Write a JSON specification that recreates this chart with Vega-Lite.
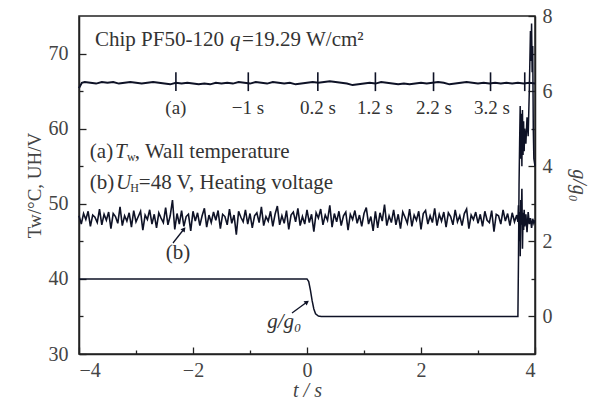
{
  "$schema": "https://vega.github.io/schema/vega-lite/v6.json",
  "width": 456,
  "height": 338,
  "autosize": {"type": "none"},
  "padding": {"left": 79, "top": 16, "right": 58, "bottom": 50},
  "background": "white",
  "config": {
    "view": {"stroke": "#222", "strokeWidth": 1.5},
    "font": "Liberation Serif",
    "axis": {
      "labelFont": "Liberation Serif", "titleFont": "Liberation Serif",
      "labelColor": "#444", "titleColor": "#444",
      "domainColor": "#222", "tickColor": "#222", "grid": false,
      "labelFontSize": 20, "titleFontSize": 20, "titleFontWeight": "normal",
      "domainWidth": 1.5, "tickWidth": 1.3
    }
  },
  "datasets": {
    "tw": [
      {"t":-4.0,"v":65.4},{"t":-3.95,"v":66.1},{"t":-3.9,"v":66.2},{"t":-3.8,"v":66.1},{"t":-3.7,"v":66.0},{"t":-3.6,"v":66.2},{"t":-3.5,"v":66.1},{"t":-3.4,"v":66.2},{"t":-3.3,"v":66.0},{"t":-3.2,"v":66.1},{"t":-3.1,"v":66.2},{"t":-3.0,"v":66.1},{"t":-2.9,"v":66.0},{"t":-2.8,"v":66.1},{"t":-2.7,"v":66.2},{"t":-2.6,"v":66.1},{"t":-2.5,"v":66.0},{"t":-2.4,"v":65.9},{"t":-2.3,"v":66.1},{"t":-2.2,"v":66.0},{"t":-2.1,"v":66.1},{"t":-2.0,"v":66.0},{"t":-1.9,"v":65.9},{"t":-1.8,"v":66.0},{"t":-1.7,"v":65.9},{"t":-1.6,"v":66.1},{"t":-1.5,"v":66.0},{"t":-1.4,"v":66.1},{"t":-1.3,"v":66.0},{"t":-1.2,"v":66.2},{"t":-1.1,"v":66.1},{"t":-1.0,"v":66.0},{"t":-0.9,"v":66.2},{"t":-0.8,"v":66.1},{"t":-0.7,"v":66.0},{"t":-0.6,"v":66.2},{"t":-0.5,"v":66.1},{"t":-0.4,"v":66.0},{"t":-0.3,"v":66.1},{"t":-0.2,"v":65.9},{"t":-0.1,"v":66.0},{"t":0.0,"v":66.1},{"t":0.1,"v":66.2},{"t":0.2,"v":66.1},{"t":0.3,"v":66.2},{"t":0.4,"v":66.3},{"t":0.5,"v":66.2},{"t":0.6,"v":66.1},{"t":0.7,"v":66.0},{"t":0.8,"v":65.8},{"t":0.9,"v":65.9},{"t":1.0,"v":66.0},{"t":1.1,"v":66.1},{"t":1.2,"v":66.0},{"t":1.3,"v":66.2},{"t":1.4,"v":66.1},{"t":1.5,"v":66.0},{"t":1.6,"v":65.9},{"t":1.7,"v":66.0},{"t":1.8,"v":65.9},{"t":1.9,"v":66.0},{"t":2.0,"v":66.1},{"t":2.1,"v":66.0},{"t":2.2,"v":66.1},{"t":2.3,"v":66.2},{"t":2.4,"v":66.1},{"t":2.5,"v":65.9},{"t":2.6,"v":66.0},{"t":2.7,"v":66.1},{"t":2.8,"v":66.2},{"t":2.9,"v":66.1},{"t":3.0,"v":66.0},{"t":3.1,"v":66.1},{"t":3.2,"v":66.0},{"t":3.3,"v":66.1},{"t":3.4,"v":66.0},{"t":3.5,"v":66.1},{"t":3.6,"v":66.0},{"t":3.7,"v":66.1},{"t":3.8,"v":66.0},{"t":3.9,"v":66.1},{"t":4.0,"v":66.0}
    ],
    "uh": [
      {"t":-4.00,"v":48.4},{"t":-3.96,"v":47.3},{"t":-3.92,"v":48.7},{"t":-3.88,"v":47.9},{"t":-3.84,"v":49.0},{"t":-3.80,"v":47.0},{"t":-3.76,"v":48.5},{"t":-3.72,"v":48.2},{"t":-3.68,"v":47.5},{"t":-3.64,"v":49.3},
      {"t":-3.60,"v":47.2},{"t":-3.56,"v":48.6},{"t":-3.52,"v":47.8},{"t":-3.48,"v":48.9},{"t":-3.44,"v":46.7},{"t":-3.40,"v":48.7},{"t":-3.36,"v":48.3},{"t":-3.32,"v":47.4},{"t":-3.28,"v":49.6},{"t":-3.24,"v":47.1},
      {"t":-3.20,"v":48.4},{"t":-3.16,"v":47.7},{"t":-3.12,"v":48.8},{"t":-3.08,"v":46.9},{"t":-3.04,"v":49.1},{"t":-3.00,"v":47.6},{"t":-2.96,"v":48.3},{"t":-2.92,"v":49.0},{"t":-2.88,"v":46.5},{"t":-2.84,"v":48.5},
      {"t":-2.80,"v":47.9},{"t":-2.76,"v":49.2},{"t":-2.72,"v":47.3},{"t":-2.68,"v":48.6},{"t":-2.64,"v":46.8},{"t":-2.60,"v":48.8},{"t":-2.56,"v":48.1},{"t":-2.52,"v":47.5},{"t":-2.48,"v":49.5},{"t":-2.44,"v":47.2},
      {"t":-2.40,"v":48.4},{"t":-2.36,"v":50.5},{"t":-2.32,"v":46.6},{"t":-2.28,"v":48.7},{"t":-2.24,"v":47.3},{"t":-2.20,"v":49.1},{"t":-2.16,"v":47.0},{"t":-2.12,"v":48.3},{"t":-2.08,"v":48.6},{"t":-2.04,"v":46.4},
      {"t":-2.00,"v":49.0},{"t":-1.96,"v":47.7},{"t":-1.92,"v":48.8},{"t":-1.88,"v":47.1},{"t":-1.84,"v":48.4},{"t":-1.80,"v":49.4},{"t":-1.76,"v":46.9},{"t":-1.72,"v":48.5},{"t":-1.68,"v":47.5},{"t":-1.64,"v":48.9},
      {"t":-1.60,"v":47.8},{"t":-1.56,"v":49.1},{"t":-1.52,"v":46.7},{"t":-1.48,"v":48.6},{"t":-1.44,"v":48.3},{"t":-1.40,"v":47.2},{"t":-1.36,"v":49.3},{"t":-1.32,"v":47.4},{"t":-1.28,"v":48.5},{"t":-1.24,"v":45.9},
      {"t":-1.20,"v":49.0},{"t":-1.16,"v":48.2},{"t":-1.12,"v":47.6},{"t":-1.08,"v":49.2},{"t":-1.04,"v":47.3},{"t":-1.00,"v":48.7},{"t":-0.96,"v":46.8},{"t":-0.92,"v":48.4},{"t":-0.88,"v":48.8},{"t":-0.84,"v":47.5},
      {"t":-0.80,"v":49.6},{"t":-0.76,"v":47.1},{"t":-0.72,"v":48.3},{"t":-0.68,"v":47.7},{"t":-0.64,"v":49.0},{"t":-0.60,"v":47.0},{"t":-0.56,"v":48.6},{"t":-0.52,"v":49.7},{"t":-0.48,"v":47.2},{"t":-0.44,"v":48.4},
      {"t":-0.40,"v":47.4},{"t":-0.36,"v":49.1},{"t":-0.32,"v":46.6},{"t":-0.28,"v":48.5},{"t":-0.24,"v":48.9},{"t":-0.20,"v":47.6},{"t":-0.16,"v":49.4},{"t":-0.12,"v":47.1},{"t":-0.08,"v":48.3},{"t":-0.04,"v":47.3},
      {"t":0.00,"v":49.2},{"t":0.04,"v":47.5},{"t":0.08,"v":48.6},{"t":0.12,"v":46.3},{"t":0.16,"v":48.8},{"t":0.20,"v":48.1},{"t":0.24,"v":49.3},{"t":0.28,"v":47.2},{"t":0.32,"v":48.5},{"t":0.36,"v":47.8},
      {"t":0.40,"v":49.8},{"t":0.44,"v":46.9},{"t":0.48,"v":48.7},{"t":0.52,"v":47.6},{"t":0.56,"v":49.0},{"t":0.60,"v":47.1},{"t":0.64,"v":48.4},{"t":0.68,"v":48.9},{"t":0.72,"v":46.5},{"t":0.76,"v":48.6},
      {"t":0.80,"v":47.9},{"t":0.84,"v":49.1},{"t":0.88,"v":47.4},{"t":0.92,"v":48.5},{"t":0.96,"v":47.0},{"t":1.00,"v":48.7},{"t":1.04,"v":49.5},{"t":1.08,"v":47.3},{"t":1.12,"v":48.3},{"t":1.16,"v":46.4},
      {"t":1.20,"v":49.0},{"t":1.24,"v":46.8},{"t":1.28,"v":48.8},{"t":1.32,"v":47.7},{"t":1.36,"v":49.9},{"t":1.40,"v":47.1},{"t":1.44,"v":48.4},{"t":1.48,"v":47.5},{"t":1.52,"v":49.2},{"t":1.56,"v":47.2},
      {"t":1.60,"v":48.6},{"t":1.64,"v":46.7},{"t":1.68,"v":48.9},{"t":1.72,"v":48.2},{"t":1.76,"v":47.4},{"t":1.80,"v":49.3},{"t":1.84,"v":47.0},{"t":1.88,"v":48.5},{"t":1.92,"v":47.8},{"t":1.96,"v":49.0},
      {"t":2.00,"v":46.6},{"t":2.04,"v":48.7},{"t":2.08,"v":49.1},{"t":2.12,"v":47.3},{"t":2.16,"v":48.4},{"t":2.20,"v":47.5},{"t":2.24,"v":49.4},{"t":2.28,"v":47.1},{"t":2.32,"v":48.6},{"t":2.36,"v":47.7},
      {"t":2.40,"v":48.9},{"t":2.44,"v":46.9},{"t":2.48,"v":48.8},{"t":2.52,"v":48.3},{"t":2.56,"v":47.2},{"t":2.60,"v":49.2},{"t":2.64,"v":47.6},{"t":2.68,"v":48.4},{"t":2.72,"v":47.1},{"t":2.76,"v":48.7},
      {"t":2.80,"v":49.3},{"t":2.84,"v":46.7},{"t":2.88,"v":48.5},{"t":2.92,"v":47.9},{"t":2.96,"v":48.9},{"t":3.00,"v":47.4},{"t":3.04,"v":48.6},{"t":3.08,"v":47.0},{"t":3.12,"v":49.0},{"t":3.16,"v":47.8},
      {"t":3.20,"v":47.5},{"t":3.24,"v":49.1},{"t":3.28,"v":46.3},{"t":3.32,"v":48.6},{"t":3.36,"v":48.4},{"t":3.40,"v":47.3},{"t":3.44,"v":49.2},{"t":3.48,"v":47.7},{"t":3.52,"v":48.7},{"t":3.56,"v":47.1},
      {"t":3.60,"v":48.8},{"t":3.64,"v":47.6},{"t":3.68,"v":48.5},
      {"t":3.70,"v":47.6},{"t":3.71,"v":49.8},{"t":3.72,"v":45.0},{"t":3.73,"v":48.9},{"t":3.74,"v":43.0},{"t":3.75,"v":50.5},{"t":3.76,"v":47.2},{"t":3.77,"v":52.0},{"t":3.78,"v":44.0},{"t":3.79,"v":48.8},{"t":3.80,"v":46.5},{"t":3.81,"v":49.2},{"t":3.82,"v":47.0},{"t":3.84,"v":48.6},{"t":3.86,"v":46.2},{"t":3.88,"v":48.9},{"t":3.90,"v":47.3},{"t":3.92,"v":48.1},{"t":3.94,"v":46.8},{"t":3.96,"v":48.0},{"t":3.98,"v":47.4},{"t":4.00,"v":47.8}
    ],
    "gg": [
      {"t":-4.0,"g":1.0},{"t":0.0,"g":1.0},{"t":0.03,"g":0.93},{"t":0.06,"g":0.7},{"t":0.09,"g":0.42},{"t":0.12,"g":0.2},{"t":0.15,"g":0.07},{"t":0.2,"g":0.01},{"t":0.25,"g":0.0},{"t":3.70,"g":0.0},
      {"t":3.71,"g":1.5},{"t":3.72,"g":3.5},{"t":3.73,"g":4.6},{"t":3.74,"g":5.6},{"t":3.75,"g":4.2},{"t":3.76,"g":5.4},{"t":3.77,"g":4.0},{"t":3.78,"g":5.5},{"t":3.79,"g":4.3},{"t":3.80,"g":5.2},{"t":3.81,"g":4.4},{"t":3.82,"g":5.0},{"t":3.84,"g":4.6},{"t":3.86,"g":5.3},{"t":3.88,"g":4.8},{"t":3.90,"g":6.0},{"t":3.92,"g":7.6},{"t":3.93,"g":6.8},{"t":3.94,"g":7.8},{"t":3.95,"g":6.5},{"t":3.96,"g":7.2},{"t":3.97,"g":5.0},{"t":3.98,"g":4.2},{"t":4.0,"g":4.0}
    ],
    "mk": [
      {"t":-2.30,"v":65.0,"v2":67.5},{"t":-1.03,"v":65.0,"v2":67.5},{"t":0.19,"v":65.0,"v2":67.5},{"t":1.2,"v":65.0,"v2":67.5},{"t":2.22,"v":65.0,"v2":67.5},{"t":3.22,"v":65.0,"v2":67.5},{"t":3.82,"v":65.0,"v2":67.5}
    ],
    "txt": [
      {"t":-3.72,"v":71.8,"s":"Chip PF50-120","k":"n"},
      {"t":-1.35,"v":71.8,"s":"q","k":"i"},
      {"t":-1.14,"v":71.8,"s":"=19.29 W/cm²","k":"n"},
      {"t":-3.81,"v":56.9,"s":"(a)","k":"n"},
      {"t":-3.37,"v":56.9,"s":"T","k":"i"},
      {"t":-3.16,"v":56.2,"s":"w","k":"sub"},
      {"t":-3.02,"v":56.9,"s":", Wall temperature","k":"n"},
      {"t":-3.81,"v":52.8,"s":"(b)","k":"n"},
      {"t":-3.35,"v":52.8,"s":"U","k":"i"},
      {"t":-3.10,"v":52.1,"s":"H","k":"sub"},
      {"t":-2.95,"v":52.8,"s":"=48 V, Heating voltage","k":"n"},
      {"t":-2.263,"v":43.45,"s":"(b)","k":"n2c"},
      {"t":-2.30,"v":62.75,"s":"(a)","k":"c"},
      {"t":-1.035,"v":62.75,"s":"−1 s","k":"c"},
      {"t":0.193,"v":62.75,"s":"0.2 s","k":"c"},
      {"t":1.193,"v":62.75,"s":"1.2 s","k":"c"},
      {"t":2.228,"v":62.75,"s":"2.2 s","k":"c"},
      {"t":3.246,"v":62.75,"s":"3.2 s","k":"c"},
      {"t":-0.40,"v":34.26,"s":"g/g₀","k":"ic"}
    ],
    "ar": [
      {"id":"b","t":-2.351,"v":44.78},{"id":"b","t":-2.158,"v":46.64},
      {"id":"g","t":-0.263,"v":35.46},{"id":"g","t":0.0,"v":36.92}
    ],
    "ah": [
      {"id":"b","t":-2.158,"v":46.64},
      {"id":"g","t":0.0,"v":36.92}
    ]
  },
  "layer": [
    {
      "layer": [
        {
          "data": {"name": "tw"},
          "mark": {"type": "line", "color": "#0e1226", "strokeWidth": 2},
          "encoding": {
            "x": {"field": "t", "type": "quantitative", "scale": {"domain": [-4, 4], "nice": false},
              "axis": {"title": "t / s", "titleFontStyle": "italic", "values": [-4,-3,-2,-1,0,1,2,3,4], "format": "d",
                "labelExpr": "datum.value % 2 === 0 ? datum.label : ''",
                "tickSize": {"condition": {"test": "datum.value % 2 === 0", "value": -7}, "value": -4},
                "labelPadding": 13, "titlePadding": 0}},
            "y": {"field": "v", "type": "quantitative", "scale": {"domain": [30, 75], "nice": false, "zero": false},
              "axis": {"title": "Tw/°C, UH/V", "titleFontSize": 19, "values": [30,35,40,45,50,55,60,65,70],
                "labelExpr": "datum.value % 10 === 0 ? datum.label : ''",
                "tickSize": {"condition": {"test": "datum.value % 10 === 0", "value": -7}, "value": -4},
                "labelPadding": 18, "titlePadding": 4}}
          }
        },
        {
          "data": {"name": "uh"},
          "mark": {"type": "line", "color": "#0e1226", "strokeWidth": 1.6},
          "encoding": {
            "x": {"field": "t", "type": "quantitative", "scale": {"domain": [-4, 4], "nice": false}},
            "y": {"field": "v", "type": "quantitative", "scale": {"domain": [30, 75], "nice": false, "zero": false}}
          }
        },
        {
          "data": {"name": "mk"},
          "mark": {"type": "rule", "color": "#0e1226", "strokeWidth": 1.6},
          "encoding": {
            "x": {"field": "t", "type": "quantitative", "scale": {"domain": [-4, 4], "nice": false}},
            "y": {"field": "v", "type": "quantitative", "scale": {"domain": [30, 75], "nice": false, "zero": false}},
            "y2": {"field": "v2"}
          }
        },
        {
          "data": {"name": "ar"},
          "mark": {"type": "line", "color": "#0e1226", "strokeWidth": 1.3},
          "encoding": {
            "x": {"field": "t", "type": "quantitative", "scale": {"domain": [-4, 4], "nice": false}},
            "y": {"field": "v", "type": "quantitative", "scale": {"domain": [30, 75], "nice": false, "zero": false}},
            "detail": {"field": "id"}
          }
        },
        {
          "data": {"name": "ah"},
          "transform": [{"filter": "datum.id === 'b'"}],
          "mark": {"type": "point", "shape": "triangle-up", "filled": true, "color": "#0e1226", "size": 28, "angle": 38, "opacity": 1},
          "encoding": {
            "x": {"field": "t", "type": "quantitative", "scale": {"domain": [-4, 4], "nice": false}},
            "y": {"field": "v", "type": "quantitative", "scale": {"domain": [30, 75], "nice": false, "zero": false}}
          }
        },
        {
          "data": {"name": "ah"},
          "transform": [{"filter": "datum.id === 'g'"}],
          "mark": {"type": "point", "shape": "triangle-up", "filled": true, "color": "#0e1226", "size": 28, "angle": 54, "opacity": 1},
          "encoding": {
            "x": {"field": "t", "type": "quantitative", "scale": {"domain": [-4, 4], "nice": false}},
            "y": {"field": "v", "type": "quantitative", "scale": {"domain": [30, 75], "nice": false, "zero": false}}
          }
        },
        {
          "data": {"name": "txt"},
          "transform": [{"filter": "datum.k === 'n'"}],
          "mark": {"type": "text", "align": "left", "baseline": "middle", "fontSize": 21, "color": "#333", "font": "Liberation Serif"},
          "encoding": {
            "x": {"field": "t", "type": "quantitative", "scale": {"domain": [-4, 4], "nice": false}},
            "y": {"field": "v", "type": "quantitative", "scale": {"domain": [30, 75], "nice": false, "zero": false}},
            "text": {"field": "s"}
          }
        },
        {
          "data": {"name": "txt"},
          "transform": [{"filter": "datum.k === 'i'"}],
          "mark": {"type": "text", "align": "left", "baseline": "middle", "fontSize": 21, "fontStyle": "italic", "color": "#333", "font": "Liberation Serif"},
          "encoding": {
            "x": {"field": "t", "type": "quantitative", "scale": {"domain": [-4, 4], "nice": false}},
            "y": {"field": "v", "type": "quantitative", "scale": {"domain": [30, 75], "nice": false, "zero": false}},
            "text": {"field": "s"}
          }
        },
        {
          "data": {"name": "txt"},
          "transform": [{"filter": "datum.k === 'sub'"}],
          "mark": {"type": "text", "align": "left", "baseline": "middle", "fontSize": 12, "color": "#333", "font": "Liberation Serif"},
          "encoding": {
            "x": {"field": "t", "type": "quantitative", "scale": {"domain": [-4, 4], "nice": false}},
            "y": {"field": "v", "type": "quantitative", "scale": {"domain": [30, 75], "nice": false, "zero": false}},
            "text": {"field": "s"}
          }
        },
        {
          "data": {"name": "txt"},
          "transform": [{"filter": "datum.k === 'c'"}],
          "mark": {"type": "text", "align": "center", "baseline": "middle", "fontSize": 19, "color": "#333", "font": "Liberation Serif"},
          "encoding": {
            "x": {"field": "t", "type": "quantitative", "scale": {"domain": [-4, 4], "nice": false}},
            "y": {"field": "v", "type": "quantitative", "scale": {"domain": [30, 75], "nice": false, "zero": false}},
            "text": {"field": "s"}
          }
        },
        {
          "data": {"name": "txt"},
          "transform": [{"filter": "datum.k === 'n2c'"}],
          "mark": {"type": "text", "align": "center", "baseline": "middle", "fontSize": 21, "color": "#333", "font": "Liberation Serif"},
          "encoding": {
            "x": {"field": "t", "type": "quantitative", "scale": {"domain": [-4, 4], "nice": false}},
            "y": {"field": "v", "type": "quantitative", "scale": {"domain": [30, 75], "nice": false, "zero": false}},
            "text": {"field": "s"}
          }
        },
        {
          "data": {"name": "txt"},
          "transform": [{"filter": "datum.k === 'ic'"}],
          "mark": {"type": "text", "align": "center", "baseline": "middle", "fontSize": 21, "fontStyle": "italic", "color": "#333", "font": "Liberation Serif"},
          "encoding": {
            "x": {"field": "t", "type": "quantitative", "scale": {"domain": [-4, 4], "nice": false}},
            "y": {"field": "v", "type": "quantitative", "scale": {"domain": [30, 75], "nice": false, "zero": false}},
            "text": {"field": "s"}
          }
        }
      ]
    },
    {
      "data": {"name": "gg"},
      "mark": {"type": "line", "color": "#0e1226", "strokeWidth": 1.5},
      "encoding": {
        "x": {"field": "t", "type": "quantitative", "scale": {"domain": [-4, 4], "nice": false}},
        "y": {"field": "g", "type": "quantitative", "scale": {"domain": [-1, 8], "nice": false, "zero": false},
          "axis": {"orient": "right", "title": "g/g₀", "titleFontStyle": "italic", "values": [0,1,2,3,4,5,6,7,8],
            "labelExpr": "datum.value % 2 === 0 ? datum.label : ''",
            "tickSize": {"condition": {"test": "datum.value % 2 === 0", "value": -7}, "value": -4},
            "labelPadding": 14, "titlePadding": 16}}
      }
    }
  ],
  "resolve": {"scale": {"y": "independent"}, "axis": {"y": "independent"}}
}
